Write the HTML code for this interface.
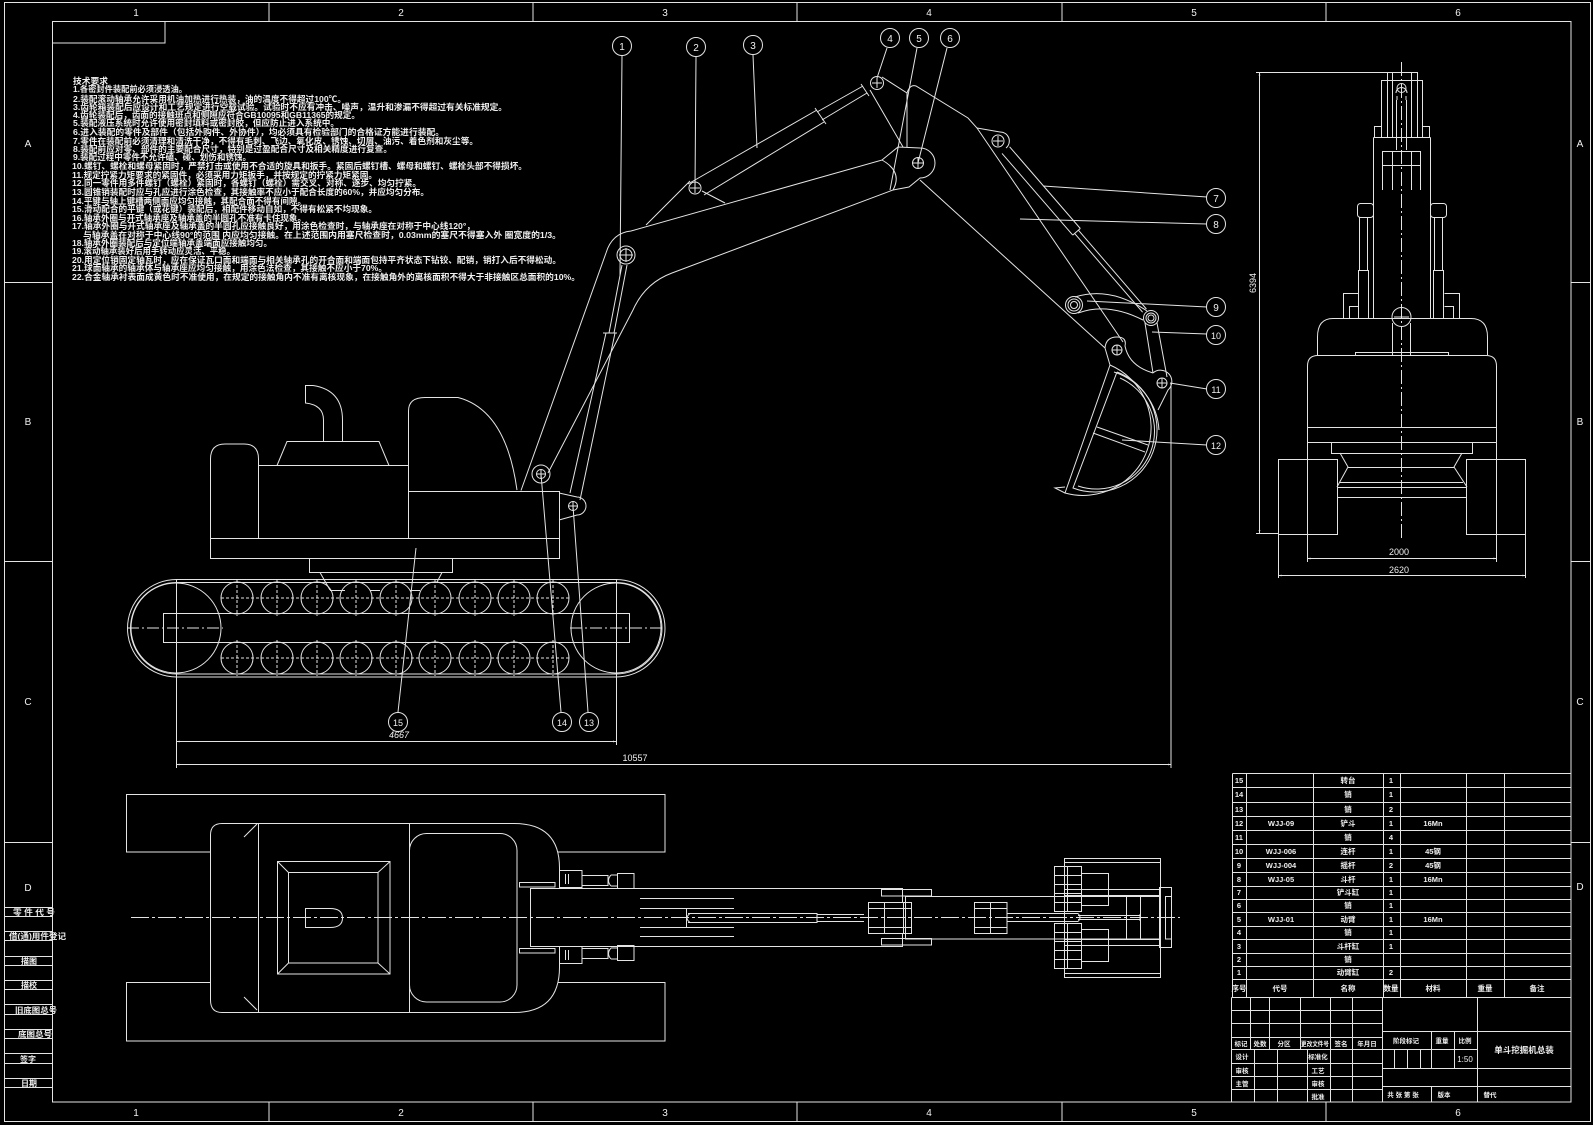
<!DOCTYPE html>
<html><head><meta charset="utf-8"><style>
html,body{margin:0;padding:0;background:#000;}
svg{display:block;}
text{font-family:"Liberation Sans","Noto Sans CJK SC",sans-serif;fill:#f0f0f0;stroke:none;}
</style></head><body>
<svg width="1593" height="1125" viewBox="0 0 1593 1125" xmlns="http://www.w3.org/2000/svg">
<defs>
<marker id="ar" viewBox="0 0 10 10" refX="10" refY="5" markerWidth="7" markerHeight="3" markerUnits="userSpaceOnUse" orient="auto-start-reverse"><path d="M0,2 L10,5 L0,8z" fill="#e6e6e6"/></marker>
</defs>
<rect width="1593" height="1125" fill="#000"/>
<g fill="none" stroke="#e4e4e4" stroke-width="1">
<!-- frames -->
<rect x="4.5" y="2.5" width="1586" height="1119"/>
<rect x="52.5" y="21.5" width="1518.5" height="1080.5"/>
<path d="M269,2.5V21.5M533,2.5V21.5M797,2.5V21.5M1062,2.5V21.5M1326,2.5V21.5M269,1102V1121.5M533,1102V1121.5M797,1102V1121.5M1062,1102V1121.5M1326,1102V1121.5"/>
<path d="M4.5,282.5H52.5M4.5,561.5H52.5M4.5,842.5H52.5M1571,282.5H1590.5M1571,561.5H1590.5M1571,842.5H1590.5"/>
<rect x="52.5" y="21.5" width="112.5" height="21.5"/>
<!-- left label strip -->
<path d="M4.5,907.5H52.5M4.5,916.5H52.5M4.5,931.5H52.5M4.5,940.5H52.5M4.5,956.5H52.5M4.5,965.5H52.5M4.5,980.5H52.5M4.5,989.5H52.5M4.5,1004.5H52.5M4.5,1014.5H52.5M4.5,1029.5H52.5M4.5,1038.5H52.5M4.5,1053.5H52.5M4.5,1063.5H52.5M4.5,1078.5H52.5M4.5,1087.5H52.5"/>

<!-- ================= SIDE VIEW ================= -->
<rect x="127.5" y="579.5" width="537.5" height="97.5" rx="49" ry="49"/>
<rect x="130.5" y="582.5" width="531.5" height="91.5" rx="46" ry="46"/>
<circle cx="176" cy="628" r="45"/>
<circle cx="616" cy="628" r="45"/>
<path d="M176.5,579V768M616.5,579V745"/>
<rect x="163.5" y="613.5" width="466" height="29"/>
<path d="M127,628H223M570,628H665" stroke-dasharray="12,3,2,3"/>
<g>
<circle cx="237" cy="598" r="16"/><circle cx="277" cy="598" r="16"/><circle cx="317" cy="598" r="16"/><circle cx="356" cy="598" r="16"/><circle cx="396" cy="598" r="16"/><circle cx="435" cy="598" r="16"/><circle cx="475" cy="598" r="16"/><circle cx="514" cy="598" r="16"/><circle cx="553" cy="598" r="16"/>
<circle cx="237" cy="658" r="16"/><circle cx="277" cy="658" r="16"/><circle cx="317" cy="658" r="16"/><circle cx="356" cy="658" r="16"/><circle cx="396" cy="658" r="16"/><circle cx="435" cy="658" r="16"/><circle cx="475" cy="658" r="16"/><circle cx="514" cy="658" r="16"/><circle cx="553" cy="658" r="16"/>
</g>
<path stroke-dasharray="3,2" d="M221,598H570M221,658H570M237,580V616M277,580V616M317,580V616M356,580V616M396,580V616M435,580V616M475,580V616M514,580V616M553,580V616M237,640V676M277,640V676M317,640V676M356,640V676M396,640V676M435,640V676M475,640V676M514,640V676M553,640V676"/>
<path d="M210.5,538V459Q210.5,444 225,444H244Q258.5,444 258.5,459V538"/>
<rect x="258.5" y="465.5" width="150" height="73"/>
<path d="M277,465.5L287,441.5H379L389,465.5"/>
<path d="M323.5,441.5V420Q323.5,405 305.5,403V385.5H313Q342.5,390 342.5,420V441.5"/>
<path d="M408.5,465.5V411Q408.5,397.5 425,397.5H458Q506,410 517,490"/>
<path d="M408.5,491.5H559.5V558.5"/>
<rect x="210.5" y="538.5" width="349" height="20"/>
<rect x="309.5" y="558.5" width="143" height="14"/>
<path d="M320,572.5L330,590M442,572.5L437,582M330,590.5H345M370,590.5H380M410,590.5H420"/>
<!-- boom -->
<path d="M521,490.5L606,253Q612,233 631,231L882,160Q903,172 893,190L672,273Q645,283 633,310L548,473"/>
<circle cx="541" cy="474" r="9"/>
<circle cx="541" cy="474" r="4.5"/>
<path d="M536,474H546M541,469V479"/>
<path d="M559,493L577,497A9,9 0 0 1 577,515L559,520"/>
<circle cx="573" cy="506" r="4.5"/><path d="M568,506H578M573,501V511"/>
<path d="M570,493L606,333M580,500L615,333M603,333H617M609,333L622,265M614,333L627,265"/>
<circle cx="626" cy="255" r="9"/><circle cx="626" cy="255" r="6"/><path d="M619,255H633M626,248V262"/>
<path d="M646,225L690,181M702,191L725,203"/>
<circle cx="695" cy="188" r="6"/><path d="M690,188H700M695,183V193"/>
<path d="M688,184L817,110M704,195L824,122M815,108L826,124M817,112L863,86M822,120L867,93M861,84L869,96"/>
<path d="M882,160L898,147L920,148A15,15 0 0 1 920,178L909,187L893,190"/>
<circle cx="918" cy="163" r="5.5"/><path d="M913,163H923M918,158V168"/>
<!-- arm -->
<circle cx="877" cy="83" r="6.5"/><path d="M872,83H882M877,78V88"/>
<path d="M870,90L903,147M882,77L907,93L907,147M907,93Q910,84 916,86L968,118L977,128L1123,342M920,180L1105,348"/>
<path d="M977,128L1000,132A9,9 0 0 1 1006,148"/>
<circle cx="998" cy="141" r="6"/><path d="M993,141H1003M998,136V146"/>
<path d="M1009.6,146.8L1080.3,228.5M1002,153.4L1072.7,235.1M1072.7,235.1L1080.3,228.5M1078.4,230.2L1146.4,309M1074.6,233.4L1142.6,312.2"/>
<path d="M1075,297Q1110,286 1147,311M1078,313Q1108,302 1143,320"/>
<circle cx="1074" cy="305" r="8.5"/><circle cx="1074" cy="305" r="6"/><circle cx="1074" cy="305" r="3.5"/>
<circle cx="1151" cy="318" r="7.5"/><circle cx="1151" cy="318" r="5"/><circle cx="1151" cy="318" r="3"/>
<path d="M1145,323L1153,373M1157,323L1167,377"/>
<path d="M1105,348Q1106,337 1117,337Q1127,337 1125,346Q1129,366 1153,373M1105,348L1110,365"/>
<circle cx="1117" cy="350" r="5"/><path d="M1112,350H1122M1117,345V355"/>
<path d="M1153,373A10,10 0 0 1 1168,390L1158,410"/>
<circle cx="1162" cy="383" r="5"/><path d="M1157,383H1167M1162,378V388"/>
<!-- bucket -->
<path d="M1110,365A68,68 0 0 1 1065,493L1110,365"/>
<path d="M1114,372A65,65 0 0 1 1159,430"/>
<path d="M1065,487L1055,488L1065,493"/>
<path d="M1117,372A62,62 0 0 1 1073,488L1117,372"/>
<path d="M1120,378A58,58 0 0 1 1078,486"/>
<path d="M1097,427L1148,445M1093,433L1145,452"/>
<path d="M1171,383V768"/>
<path d="M176.5,741.5H616" marker-start="url(#ar)" marker-end="url(#ar)"/>
<path d="M176.5,764.5H1171" marker-start="url(#ar)" marker-end="url(#ar)"/>
<path d="M622,56L620,275M696,57L695,188M753,55L757,148M887,48L877,78M917,48L890,190M947,48L918,163M1207,197L1043,186M1207,224L1020,219M1207,307L1087,301M1207,334L1152,332M1207,389L1170,383M1207,445L1122,440M588,712L573,506M561,712L541,474M398,712L416,548"/>
<circle cx="622" cy="46" r="9.5"/><circle cx="696" cy="47" r="9.5"/><circle cx="753" cy="45" r="9.5"/><circle cx="890" cy="38" r="9.5"/><circle cx="919" cy="38" r="9.5"/><circle cx="950" cy="38" r="9.5"/>
<circle cx="1216" cy="198" r="9.5"/><circle cx="1216" cy="224" r="9.5"/><circle cx="1216" cy="307" r="9.5"/><circle cx="1216" cy="335" r="9.5"/><circle cx="1216" cy="389" r="9.5"/><circle cx="1216" cy="445" r="9.5"/>
<circle cx="398" cy="722" r="9.5"/><circle cx="562" cy="722" r="9.5"/><circle cx="589" cy="722" r="9.5"/>

<!-- ================= FRONT VIEW ================= -->
<path d="M1259.5,72.5V533" marker-start="url(#ar)" marker-end="url(#ar)"/>
<path d="M1256,72.5H1387M1256,533.5H1278"/>
<path d="M1401.5,62V540" stroke-dasharray="14,3,2,3"/>
<rect x="1381.5" y="80.5" width="41" height="57"/>
<rect x="1387.5" y="72.5" width="30" height="65"/>
<path d="M1392.5,72.5V137M1411.5,72.5V137"/>
<path d="M1396.5,100V150M1406.5,100V150M1396,93A5,5 0 0 1 1407,93M1397,96V100M1406,96V100"/>
<circle cx="1401.5" cy="88" r="4.5"/>
<rect x="1374.5" y="126.5" width="7" height="11"/><rect x="1422.5" y="126.5" width="7" height="11"/>
<path d="M1373.5,137.5H1430.5M1373.5,137.5V318M1430.5,137.5V318"/>
<path d="M1382.5,190V151.5H1420.5V190M1392.5,151.5V190M1411.5,151.5V190M1382.5,165.5H1420.5"/>
<rect x="1357.5" y="203.5" width="16" height="14" rx="3"/><rect x="1430.5" y="203.5" width="16" height="14" rx="3"/>
<rect x="1359.5" y="217.5" width="8" height="53"/><rect x="1434.5" y="217.5" width="8" height="53"/>
<rect x="1358.5" y="270.5" width="10" height="48"/><rect x="1433.5" y="270.5" width="10" height="48"/>
<path d="M1343.5,318V293.5H1358.5M1349.5,318V306.5H1358.5M1459.5,318V293.5H1444.5M1453.5,318V306.5H1444.5"/>
<circle cx="1401.5" cy="317" r="9.5"/>
<path d="M1392.5,323V355M1410.5,323V355M1394,317H1409" />
<path d="M1317.5,355V337Q1317.5,318.5 1333,318.5H1471Q1487.5,318.5 1487.5,337V355"/>
<path d="M1355.5,355V352.5H1448.5V355"/>
<path d="M1307.5,442V366Q1307.5,355.5 1318,355.5H1486Q1496.5,355.5 1496.5,366V442.5H1307.5M1307.5,427.5H1496.5"/>
<rect x="1331.5" y="442.5" width="141" height="11"/>
<path d="M1340,453L1348,467L1337,487M1462,453L1454,467L1467,487M1348,467.5H1454M1340,482.5H1463M1337,487.5H1467M1337,497.5H1467M1337.5,487V497M1466.5,487V497"/>
<rect x="1278.5" y="459.5" width="59" height="75"/><rect x="1466.5" y="459.5" width="59" height="75"/>
<path d="M1307.5,442V562M1496.5,442V562M1278.5,534V578M1525.5,534V578"/>
<path d="M1307.5,558.5H1496.5" marker-start="url(#ar)" marker-end="url(#ar)"/>
<path d="M1278.5,575.5H1525.5" marker-start="url(#ar)" marker-end="url(#ar)"/>

<!-- ================= TOP VIEW ================= -->
<rect x="126.5" y="794.5" width="538.5" height="57.5"/>
<rect x="126.5" y="982.5" width="538.5" height="58.5"/>
<path d="M222,823.5H514Q559.5,823.5 559.5,868V967Q559.5,1012.5 514,1012.5H222Q210.5,1012.5 210.5,1000V835Q210.5,823.5 222,823.5Z" fill="#000"/>
<path d="M258.5,823.5V1012.5M409.5,823.5V1012.5M244,837L257,824M244,997L257,1010"/>
<rect x="277.5" y="861.5" width="112.5" height="112.5"/>
<rect x="288.5" y="872.5" width="89.5" height="90.5"/>
<path d="M277.5,861.5L288.5,872.5M390,861.5L378,872.5M277.5,974L288.5,963M390,974L378,963"/>
<path d="M305.5,908.5H330Q342.5,908.5 342.5,918Q342.5,927.5 330,927.5H305.5Z"/>
<rect x="409.5" y="833.5" width="107.5" height="168.5" rx="17"/>
<rect x="530.5" y="888.5" width="372" height="58" fill="#000"/>
<rect x="519.5" y="882.5" width="35.5" height="4.5"/><rect x="519.5" y="948.5" width="35.5" height="4.5"/>
<rect x="559.5" y="870.5" width="22.5" height="17"/><rect x="582" y="875.5" width="26" height="10"/><rect x="617.5" y="873.5" width="16.5" height="15"/>
<path d="M565.5,874V884M568.5,874V884M611,875Q606,880.5 611,886M611,875H617M611,886H617"/>
<rect x="559.5" y="946.5" width="22.5" height="17"/><rect x="582" y="948.5" width="26" height="10"/><rect x="617.5" y="945.5" width="16.5" height="15"/>
<path d="M565.5,950V960M568.5,950V960M611,948Q606,953.5 611,959M611,948H617M611,959H617"/>
<path d="M640,898.5H734M640,908.5H734M640,927.5H734M640,936.5H734M686.5,908.5V927.5"/>
<path d="M688,913.5H817M688,922.5H817M690,913.5Q684,918 690,922.5M817,914.5H864M817,921.5H864M817,913V923"/>
<rect x="868.5" y="902.5" width="43" height="31" fill="#000"/>
<path d="M868.5,908.5H911M868.5,927.5H911M884.5,902.5V933M903.5,902.5V933"/>
<rect x="881.5" y="889.5" width="50" height="6.5"/><rect x="881.5" y="938.5" width="50" height="6.5"/>
<rect x="905.5" y="896.5" width="254" height="42.5"/>
<rect x="974.5" y="902.5" width="32.5" height="31"/>
<path d="M974.5,908.5H1007M974.5,927.5H1007M990.5,902.5V933"/>
<path d="M1007,913.5H1078M1007,921.5H1078M1078,913.5Q1082,917.5 1078,921.5M1078,915.5H1140M1078,919.5H1140M1140,914V921"/>
<rect x="1064.5" y="858.5" width="96" height="119"/>
<path d="M1064.5,862.5H1160M1064.5,973.5H1160"/>
<rect x="1081.5" y="873.5" width="27" height="32"/><rect x="1081.5" y="929.5" width="27" height="32"/>
<rect x="1054.5" y="866.5" width="27" height="45"/><rect x="1054.5" y="923.5" width="27" height="45"/>
<path d="M1054.5,875.5H1081M1054.5,884.5H1081M1054.5,893.5H1081M1054.5,902.5H1081M1067.5,866.5V911M1054.5,932.5H1081M1054.5,941.5H1081M1054.5,950.5H1081M1054.5,959.5H1081M1067.5,923.5V968"/>
<path d="M1064.5,889.5H1160M1064.5,895.5H1160M1064.5,939.5H1160M1064.5,945.5H1160M1140.5,896V939M1126.5,896V939"/>
<rect x="1159.5" y="887.5" width="12" height="60"/><rect x="1165.5" y="896.5" width="6" height="42.5"/>
<path d="M131,917.5H1180" stroke-dasharray="18,3,3,3"/>

<!-- ================= PARTS TABLE ================= -->
<path d="M1232.5,773.5V997M1246.5,773.5V997M1313.5,773.5V997M1383.5,773.5V997M1400.5,773.5V997M1466.5,773.5V997M1504.5,773.5V997"/>
<path d="M1232.5,773.5H1571M1232.5,787.5H1571M1232.5,802.5H1571M1232.5,816.5H1571M1232.5,830.5H1571M1232.5,844.5H1571M1232.5,858.5H1571M1232.5,872.5H1571M1232.5,886.5H1571M1232.5,899.5H1571M1232.5,912.5H1571M1232.5,926.5H1571M1232.5,939.5H1571M1232.5,953.5H1571M1232.5,966.5H1571M1232.5,979.5H1571M1231.5,997.5H1571"/>
<path d="M1231.5,997.5V1102M1382.5,997.5V1102M1231.5,1010.5H1382.5M1231.5,1023.5H1382.5M1231.5,1037.5H1382.5M1231.5,1049.5H1382.5M1231.5,1063.5H1382.5M1231.5,1076.5H1382.5M1231.5,1089.5H1382.5"/>
<path d="M1250.5,997.5V1049.5M1269.5,997.5V1049.5M1300.5,997.5V1049.5M1330.5,997.5V1102M1352.5,997.5V1102M1254.5,1049.5V1102M1277.5,1049.5V1102M1307.5,1049.5V1102"/>
<path d="M1477.5,997.5V1102M1382.5,1031.5H1571M1382.5,1049.5H1477.5M1382.5,1068.5H1571M1382.5,1086.5H1571M1431.5,1031.5V1068.5M1454.5,1031.5V1068.5M1431.5,1086.5V1102M1394.5,1049.5V1068.5M1407.5,1049.5V1068.5M1420.5,1049.5V1068.5"/>
</g>

<!-- ================= TEXT ================= -->
<g font-size="10" text-anchor="middle">
<text x="136" y="16">1</text><text x="401" y="16">2</text><text x="665" y="16">3</text><text x="929" y="16">4</text><text x="1194" y="16">5</text><text x="1458" y="16">6</text>
<text x="136" y="1116">1</text><text x="401" y="1116">2</text><text x="665" y="1116">3</text><text x="929" y="1116">4</text><text x="1194" y="1116">5</text><text x="1458" y="1116">6</text>
<text x="28" y="147">A</text><text x="28" y="425">B</text><text x="28" y="705">C</text><text x="28" y="891">D</text>
<text x="1580" y="147">A</text><text x="1580" y="425">B</text><text x="1580" y="705">C</text><text x="1580" y="890">D</text>
</g>
<g font-size="8" font-weight="bold" text-anchor="start">
<text x="13" y="915" textLength="42" lengthAdjust="spacingAndGlyphs">零 件 代 号</text>
<text x="9" y="939" textLength="57" lengthAdjust="spacingAndGlyphs">借(通)用件登记</text>
<text x="21" y="964">描图</text>
<text x="21" y="988">描校</text>
<text x="15" y="1013" textLength="42" lengthAdjust="spacingAndGlyphs">旧底图总号</text>
<text x="18" y="1037" textLength="34" lengthAdjust="spacingAndGlyphs">底图总号</text>
<text x="20" y="1062">签字</text>
<text x="21" y="1086">日期</text>
</g>
<g font-size="8.5" font-weight="bold">
<text x="73" y="84" textLength="35" lengthAdjust="spacingAndGlyphs">技术要求</text>
<text x="73" y="92" textLength="114" lengthAdjust="spacingAndGlyphs">1.各密封件装配前必须浸透油。</text>
<text x="73" y="102" textLength="273" lengthAdjust="spacingAndGlyphs">2.装配滚动轴承允许采用机油加热进行热装，油的温度不得超过100℃。</text>
<text x="73" y="110" textLength="434" lengthAdjust="spacingAndGlyphs">3.齿轮箱装配后应设计和工艺规定进行空载试验。试验时不应有冲击、噪声，温升和渗漏不得超过有关标准规定。</text>
<text x="73" y="118" textLength="287" lengthAdjust="spacingAndGlyphs">4.齿轮装配后，齿面的接触斑点和侧隙应符合GB10095和GB11365的规定。</text>
<text x="73" y="126" textLength="266" lengthAdjust="spacingAndGlyphs">5.装配液压系统时允许使用密封填料或密封胶，但应防止进入系统中。</text>
<text x="73" y="135" textLength="371" lengthAdjust="spacingAndGlyphs">6.进入装配的零件及部件（包括外购件、外协件），均必须具有检验部门的合格证方能进行装配。</text>
<text x="73" y="144" textLength="405" lengthAdjust="spacingAndGlyphs">7.零件在装配前必须清理和清洗干净，不得有毛刺、飞边、氧化皮、锈蚀、切屑、油污、着色剂和灰尘等。</text>
<text x="73" y="152" textLength="319" lengthAdjust="spacingAndGlyphs">8.装配前应对零、部件的主要配合尺寸，特别是过盈配合尺寸及相关精度进行复查。</text>
<text x="73" y="160" textLength="178" lengthAdjust="spacingAndGlyphs">9.装配过程中零件不允许磕、碰、划伤和锈蚀。</text>
<text x="72" y="169" textLength="455" lengthAdjust="spacingAndGlyphs">10.螺钉、螺栓和螺母紧固时，严禁打击或使用不合适的旋具和扳手。紧固后螺钉槽、螺母和螺钉、螺栓头部不得损坏。</text>
<text x="72" y="178" textLength="305" lengthAdjust="spacingAndGlyphs">11.规定拧紧力矩要求的紧固件，必须采用力矩扳手，并按规定的拧紧力矩紧固。</text>
<text x="72" y="186" textLength="349" lengthAdjust="spacingAndGlyphs">12.同一零件用多件螺钉（螺栓）紧固时，各螺钉（螺栓）需交叉、对称、逐步、均匀拧紧。</text>
<text x="72" y="195" textLength="357" lengthAdjust="spacingAndGlyphs">13.圆锥销装配时应与孔应进行涂色检查，其接触率不应小于配合长度的60%，并应均匀分布。</text>
<text x="72" y="204" textLength="234" lengthAdjust="spacingAndGlyphs">14.平键与轴上键槽两侧面应均匀接触，其配合面不得有间隙。</text>
<text x="72" y="212" textLength="305" lengthAdjust="spacingAndGlyphs">15.滑动配合的平键（或花键）装配后，相配件移动自如，不得有松紧不均现象。</text>
<text x="72" y="221" textLength="234" lengthAdjust="spacingAndGlyphs">16.轴承外圈与开式轴承座及轴承盖的半圆孔不准有卡住现象。</text>
<text x="72" y="229" textLength="403" lengthAdjust="spacingAndGlyphs">17.轴承外圈与开式轴承座及轴承盖的半圆孔应接触良好，用涂色检查时，与轴承座在对称于中心线120°，</text>
<text x="83" y="238" textLength="478" lengthAdjust="spacingAndGlyphs">与轴承盖在对称于中心线90°的范围 内应均匀接触。在上述范围内用塞尺检查时，0.03mm的塞尺不得塞入外 圈宽度的1/3。</text>
<text x="72" y="246" textLength="200" lengthAdjust="spacingAndGlyphs">18.轴承外圈装配后与定位端轴承盖端面应接触均匀。</text>
<text x="72" y="254" textLength="163" lengthAdjust="spacingAndGlyphs">19.滚动轴承装好后用手转动应灵活、平稳。</text>
<text x="72" y="263" textLength="489" lengthAdjust="spacingAndGlyphs">20.用定位销固定轴瓦时，应在保证瓦口面和端面与相关轴承孔的开合面和端面包持平齐状态下钻铰、配销，销打入后不得松动。</text>
<text x="72" y="271" textLength="315" lengthAdjust="spacingAndGlyphs">21.球面轴承的轴承体与轴承座应均匀接触，用涂色法检查，其接触不应小于70%。</text>
<text x="72" y="280" textLength="508" lengthAdjust="spacingAndGlyphs">22.合金轴承衬表面成黄色时不准使用，在规定的接触角内不准有离核现象，在接触角外的离核面积不得大于非接触区总面积的10%。</text>
</g>
<g font-size="10" text-anchor="middle">
<text x="622" y="50">1</text><text x="696" y="51">2</text><text x="753" y="49">3</text><text x="890" y="42">4</text><text x="919" y="42">5</text><text x="950" y="42">6</text>
<text x="1216" y="202">7</text><text x="1216" y="228">8</text><text x="1216" y="311">9</text><text x="1216" y="339" font-size="9">10</text><text x="1216" y="393" font-size="9">11</text><text x="1216" y="449" font-size="9">12</text>
<text x="398" y="726" font-size="9">15</text><text x="562" y="726" font-size="9">14</text><text x="589" y="726" font-size="9">13</text>
</g>
<g font-size="9" text-anchor="middle">
<text x="399" y="738" font-style="italic">4667</text>
<text x="635" y="761">10557</text>
<text x="1399" y="555">2000</text>
<text x="1399" y="573">2620</text>
<text transform="translate(1256,283) rotate(-90)">6394</text>
</g>
<g font-size="7.5" font-weight="bold" text-anchor="middle">
<text x="1239" y="783">15</text><text x="1239" y="797">14</text><text x="1239" y="812">13</text><text x="1239" y="826">12</text><text x="1239" y="840">11</text><text x="1239" y="854">10</text><text x="1239" y="868">9</text><text x="1239" y="882">8</text><text x="1239" y="895">7</text><text x="1239" y="908">6</text><text x="1239" y="922">5</text><text x="1239" y="935">4</text><text x="1239" y="949">3</text><text x="1239" y="962">2</text><text x="1239" y="975">1</text>
<text x="1348" y="783">转台</text><text x="1348" y="797">销</text><text x="1348" y="812">销</text><text x="1348" y="826">铲斗</text><text x="1348" y="840">销</text><text x="1348" y="854">连杆</text><text x="1348" y="868">摇杆</text><text x="1348" y="882">斗杆</text><text x="1348" y="895">铲斗缸</text><text x="1348" y="908">销</text><text x="1348" y="922">动臂</text><text x="1348" y="935">销</text><text x="1348" y="949">斗杆缸</text><text x="1348" y="962">销</text><text x="1348" y="975">动臂缸</text>
<text x="1391" y="783">1</text><text x="1391" y="797">1</text><text x="1391" y="812">2</text><text x="1391" y="826">1</text><text x="1391" y="840">4</text><text x="1391" y="854">1</text><text x="1391" y="868">2</text><text x="1391" y="882">1</text><text x="1391" y="895">1</text><text x="1391" y="908">1</text><text x="1391" y="922">1</text><text x="1391" y="935">1</text><text x="1391" y="949">1</text><text x="1391" y="975">2</text>
<text x="1281" y="826">WJJ-09</text><text x="1281" y="854">WJJ-006</text><text x="1281" y="868">WJJ-004</text><text x="1281" y="882">WJJ-05</text><text x="1281" y="922">WJJ-01</text>
<text x="1433" y="826">16Mn</text><text x="1433" y="854">45钢</text><text x="1433" y="868">45钢</text><text x="1433" y="882">16Mn</text><text x="1433" y="922">16Mn</text>
<text x="1239" y="991">序号</text><text x="1280" y="991">代号</text><text x="1348" y="991">名称</text><text x="1391" y="991">数量</text><text x="1433" y="991">材料</text><text x="1485" y="991">重量</text><text x="1537" y="991">备注</text>
</g>
<g font-size="6.5" font-weight="bold" text-anchor="middle">
<text x="1241" y="1046">标记</text><text x="1260" y="1046">处数</text><text x="1284" y="1046">分区</text><text x="1315" y="1046" textLength="28" lengthAdjust="spacingAndGlyphs">更改文件号</text><text x="1341" y="1046">签名</text><text x="1367" y="1046">年月日</text>
<text x="1242" y="1059">设计</text><text x="1242" y="1073">审核</text><text x="1242" y="1086">主管</text><text x="1318" y="1059">标准化</text><text x="1318" y="1073">工艺</text><text x="1318" y="1086">审核</text><text x="1318" y="1099">批准</text>
<text x="1406" y="1043">阶段标记</text><text x="1442" y="1043">重量</text><text x="1465" y="1043">比例</text>
<text x="1403" y="1097">共 张 第 张</text><text x="1444" y="1097">版本</text><text x="1490" y="1097">替代</text>
</g>
<text x="1465" y="1062" font-size="8" text-anchor="middle">1:50</text>
<text x="1524" y="1053" font-size="8.5" font-weight="bold" text-anchor="middle">单斗挖掘机总装</text>
</svg>
</body></html>
